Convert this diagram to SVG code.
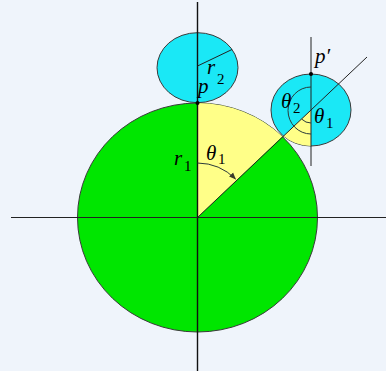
<svg xmlns="http://www.w3.org/2000/svg" width="386" height="371" viewBox="0 0 386 371">
<defs>
<style>
.bg{fill:#eff4fb}
.green{fill:#00e600;stroke:#3a3a3a;stroke-width:1}
.yellow{fill:#ffff88;stroke:none}
.cyan{fill:#1ae8f6;stroke:#3a3a3a;stroke-width:1}
.ax{stroke:#111;stroke-width:1.4;fill:none}
.ln{stroke:#222;stroke-width:1;fill:none}
.arc{stroke:#2a3a3a;stroke-width:1;fill:none}
.v{font-family:"Liberation Serif","Times New Roman",serif;font-style:italic;font-size:21px;fill:#000}
.s{font-family:"Liberation Serif","Times New Roman",serif;font-size:15px;fill:#000}
</style>
<marker id="ah" viewBox="0 0 10 10" refX="9" refY="5" markerWidth="7" markerHeight="7" orient="auto" markerUnits="userSpaceOnUse">
<path d="M0,1 L10,5 L0,9 Z" fill="#3a3a2a"/>
</marker>
</defs>
<rect class="bg" x="0" y="0" width="386" height="371"/>
<g id="big-circle">
<ellipse class="green" cx="197.5" cy="217.5" rx="120" ry="114.5"/>
<path class="yellow" d="M197.5,217.5 L197.5,103 A120,114.5 0 0 1 282.4,136.5 Z"/>
</g>
<g id="top-circle">
<ellipse class="cyan" cx="197.5" cy="67.7" rx="40.5" ry="35"/>
</g>
<g id="right-circle">
<ellipse class="cyan" cx="311" cy="110" rx="40" ry="36"/>
<path class="yellow" d="M311,110 L311,146 A40,36 0 0 1 283.4,136.1 Z"/>
</g>
<g id="connectors">
<line class="ax" x1="197.5" y1="2" x2="197.5" y2="371"/>
<line class="ln" x1="11" y1="217.5" x2="386" y2="217.5" stroke="#333" stroke-width="1.4"/>
<line class="ln" x1="197.5" y1="217.5" x2="367" y2="57"/>
<line class="ln" x1="311" y1="37" x2="311" y2="166"/>
<line class="ln" x1="197.5" y1="66" x2="232" y2="49.5"/>
<path class="arc" d="M311,87 A23,23.5 0 0 0 311,134"/>
<path class="arc" d="M301.8,119.2 A13,13 0 0 0 311,123"/>
<path class="arc" d="M197.5,163 A54.5,54.5 0 0 1 235.5,179" stroke="#3a3a2a" marker-end="url(#ah)"/>
<circle cx="197.5" cy="103" r="2" fill="#000"/>
<circle cx="311" cy="74" r="2" fill="#000"/>
</g>
<g id="labels">
<text class="v" x="174" y="165">r</text><text class="s" x="184" y="171">1</text>
<text class="v" x="206" y="160">θ</text><text class="s" x="218" y="164">1</text>
<text class="v" x="207" y="74">r</text><text class="s" x="217" y="84">2</text>
<text class="v" x="198" y="93">p</text>
<text class="v" x="315" y="63">p′</text>
<text class="v" x="281" y="108">θ</text><text class="s" x="293" y="113">2</text>
<text class="v" x="314" y="123">θ</text><text class="s" x="326" y="128">1</text>
</g>
</svg>
